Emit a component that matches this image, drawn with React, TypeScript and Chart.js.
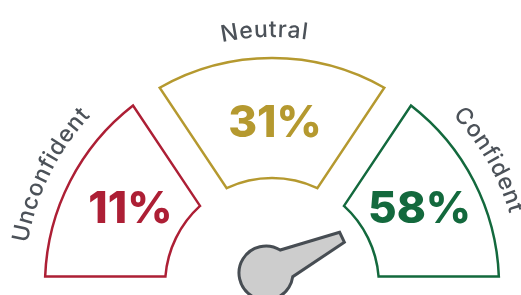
import React, { useEffect, useRef } from "react";
import { Chart, registerables } from "chart.js";

Chart.register(...registerables);

// ---- data ----
const categories = ["Unconfident", "Neutral", "Confident"];
const shares = [11, 31, 58]; // percent per category
const zoneSpans = [56.3, 67.4, 56.3]; // degrees of the 180° dial taken by each zone
const needleValue = 86; // needle position, % of the dial sweep (left = 0)

const zoneColors = ["#ad1f35", "#b5992f", "#13693d"];
const labelColor = "#4c5259";
const needleFill = "#cdcdcd";
const needleStroke = "#474d53";

const GAP_HALF = 16; // half width of gaps between zones
const END_PAD = 8.5; // pad at the two ends of the dial
const PCT_FONT = "800 44px Inter";
const LABEL_FONT = "500 23px Inter";

function drawArcText(
  ctx: CanvasRenderingContext2D,
  text: string,
  cx: number,
  cy: number,
  radius: number,
  centerAngle: number,
  spacing: number
) {
  const widths = Array.from(text).map((ch) => ctx.measureText(ch).width);
  const total = widths.reduce((a, b) => a + b, 0) + spacing * (widths.length - 1);
  let acc = 0;
  const start = centerAngle - total / 2 / radius;
  Array.from(text).forEach((ch, i) => {
    const a = start + (acc + widths[i] / 2) / radius;
    ctx.save();
    ctx.translate(cx + radius * Math.cos(a), cy + radius * Math.sin(a));
    ctx.rotate(a + Math.PI / 2);
    ctx.textAlign = "center";
    ctx.textBaseline = "alphabetic";
    ctx.fillText(ch, 0, 0);
    ctx.restore();
    acc += widths[i] + spacing;
  });
}

const gaugePlugin = {
  id: "gaugeDraw",
  beforeDatasetDraw() {
    return false;
  },
  afterDatasetsDraw(chart: any) {
    const ctx: CanvasRenderingContext2D = chart.ctx;
    const meta = chart.getDatasetMeta(0);
    const n = meta.data.length;
    let cx = 0;
    let cy = 0;
    ctx.save();
    meta.data.forEach((el: any, i: number) => {
      const p = el.getProps(["x", "y", "startAngle", "endAngle", "innerRadius", "outerRadius"], true);
      cx = p.x;
      cy = p.y;
      const ps = i === 0 ? END_PAD : GAP_HALF;
      const pe = i === n - 1 ? END_PAD : GAP_HALF;
      const R = p.outerRadius;
      const r = p.innerRadius;
      ctx.beginPath();
      ctx.arc(p.x, p.y, R, p.startAngle + Math.asin(ps / R), p.endAngle - Math.asin(pe / R));
      ctx.arc(p.x, p.y, r, p.endAngle - Math.asin(pe / r), p.startAngle + Math.asin(ps / r), true);
      ctx.closePath();
      ctx.fillStyle = "#ffffff";
      ctx.fill();
      ctx.lineWidth = 2.5;
      ctx.lineJoin = "miter";
      ctx.strokeStyle = zoneColors[i];
      ctx.stroke();

      // percentage inside the zone
      const mid = (p.startAngle + p.endAngle) / 2;
      const lr = (R + r) / 2 - 3;
      ctx.font = PCT_FONT;
      ctx.fillStyle = zoneColors[i];
      ctx.textAlign = "center";
      ctx.textBaseline = "alphabetic";
      ctx.fillText(shares[i] + "%", p.x + lr * Math.cos(mid) + 3, p.y + lr * Math.sin(mid) + 15.5);

      // curved category label outside
      ctx.font = LABEL_FONT;
      ctx.fillStyle = labelColor;
      drawArcText(ctx, categories[i], p.x, p.y, R + 21, mid - (1.8 * Math.PI) / 180, 0.8);
    });

    // needle
    const ang = Math.PI + (needleValue / 100) * Math.PI; // canvas angle
    const px = cx - 6;
    const py = cy - 12;
    const hub = 27;
    const len = 84;
    const tipHalf = 5.5;
    const phi = (33 * Math.PI) / 180;
    ctx.translate(px, py);
    ctx.rotate(ang);
    ctx.beginPath();
    ctx.moveTo(len, -tipHalf);
    ctx.lineTo(hub * Math.cos(-phi), hub * Math.sin(-phi));
    ctx.arc(0, 0, hub, -phi, phi, true);
    ctx.lineTo(len, tipHalf);
    ctx.closePath();
    ctx.fillStyle = needleFill;
    ctx.fill();
    ctx.lineWidth = 3;
    ctx.lineJoin = "miter";
    ctx.strokeStyle = needleStroke;
    ctx.stroke();
    ctx.restore();
  },
};

export default function App() {
  const canvasRef = useRef<HTMLCanvasElement | null>(null);

  useEffect(() => {
    let chart: Chart | null = null;
    let cancelled = false;
    const fonts: any = (document as any).fonts;
    const ready = fonts
      ? Promise.all([fonts.load(PCT_FONT), fonts.load(LABEL_FONT)]).catch(() => null)
      : Promise.resolve(null);
    ready.then(() => {
      if (cancelled || !canvasRef.current) return;
      chart = new Chart(canvasRef.current, {
        type: "doughnut",
        data: {
          labels: categories,
          datasets: [
            {
              data: zoneSpans,
              backgroundColor: zoneColors,
              borderWidth: 0,
            },
          ],
        },
        options: {
          animation: false,
          responsive: true,
          maintainAspectRatio: false,
          circumference: 180,
          rotation: -90,
          radius: 227,
          cutout: "47.1%",
          layout: { padding: { left: 23, right: 0, top: 48, bottom: 0 } },
          plugins: {
            legend: { display: false },
            tooltip: { enabled: false },
          },
        } as any,
        plugins: [gaugePlugin as any],
      });
    });
    return () => {
      cancelled = true;
      if (chart) chart.destroy();
    };
  }, []);

  return (
    <div style={{ position: "fixed", left: 0, top: 0, width: 521, height: 295, background: "#ffffff" }}>
      <canvas ref={canvasRef} />
    </div>
  );
}
